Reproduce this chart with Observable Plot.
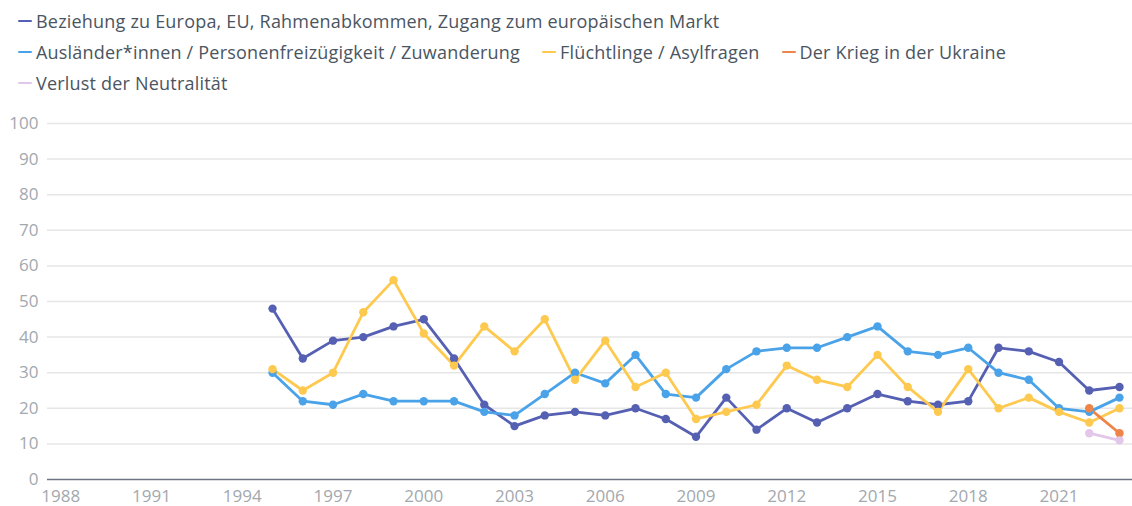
<!DOCTYPE html>
<html>
<head>
<meta charset="utf-8">
<script src="https://cdn.jsdelivr.net/npm/d3@7"></script>
<script src="https://cdn.jsdelivr.net/npm/@observablehq/plot@0.6"></script>
<style>
  html, body { margin: 0; padding: 0; background: #fff; }
  body { width: 1132px; height: 506px; overflow: hidden; font-family: "Open Sans", Roboto, sans-serif; }
  #legend { height: 100px; padding: 5px 0 0 18px; box-sizing: border-box; }
  .row { display: flex; gap: 22px; height: 31px; align-items: center; }
  .item { display: flex; align-items: center; font-size: 18px; letter-spacing: 0.2px; color: #4a5561; white-space: nowrap; }
  .sw { width: 14px; height: 2px; margin-right: 4px; border-radius: 1px; }
</style>
</head>
<body>
<div id="legend"></div>
<div id="chart"></div>
<script>
const years = [1995,1996,1997,1998,1999,2000,2001,2002,2003,2004,2005,2006,2007,2008,2009,2010,2011,2012,2013,2014,2015,2016,2017,2018,2019,2020,2021,2022,2023];
const seriesNames = [
  "Beziehung zu Europa, EU, Rahmenabkommen, Zugang zum europäischen Markt",
  "Ausländer*innen / Personenfreizügigkeit / Zuwanderung",
  "Flüchtlinge / Asylfragen",
  "Der Krieg in der Ukraine",
  "Verlust der Neutralität"
];
const seriesColors = ["#5560b3", "#4aa3e8", "#fec94f", "#ee8448", "#e3c7ea"];
const beziehung   = [48,34,39,40,43,45,34,21,15,18,19,18,20,17,12,23,14,20,16,20,24,22,21,22,37,36,33,25,26];
const auslaender  = [30,22,21,24,22,22,22,19,18,24,30,27,35,24,23,31,36,37,37,40,43,36,35,37,30,28,20,19,23];
const fluechtlinge= [31,25,30,47,56,41,32,43,36,45,28,39,26,30,17,19,21,32,28,26,35,26,19,31,20,23,19,16,20];
const ukraineYears = [2022, 2023];
const ukraine      = [20, 13];
const neutralYears = [2022, 2023];
const neutral      = [13, 11];
const xTicks = [1988,1991,1994,1997,2000,2003,2006,2009,2012,2015,2018,2021];
const yTicks = [0,10,20,30,40,50,60,70,80,90,100];
const legendRows = [[0],[1,2,3],[4]];

const data = [];
years.forEach((yr, i) => data.push({year: yr, value: beziehung[i], s: seriesNames[0]}));
years.forEach((yr, i) => data.push({year: yr, value: auslaender[i], s: seriesNames[1]}));
years.forEach((yr, i) => data.push({year: yr, value: fluechtlinge[i], s: seriesNames[2]}));
ukraineYears.forEach((yr, i) => data.push({year: yr, value: ukraine[i], s: seriesNames[3]}));
neutralYears.forEach((yr, i) => data.push({year: yr, value: neutral[i], s: seriesNames[4]}));

// legend
const legend = document.getElementById("legend");
legendRows.forEach(r => {
  const row = document.createElement("div");
  row.className = "row";
  r.forEach(i => {
    const it = document.createElement("div");
    it.className = "item";
    const sw = document.createElement("span");
    sw.className = "sw";
    sw.style.background = seriesColors[i];
    it.appendChild(sw);
    it.appendChild(document.createTextNode(seriesNames[i]));
    row.appendChild(it);
  });
  legend.appendChild(row);
});

const chart = Plot.plot({
  width: 1132,
  height: 406,
  marginTop: 23,
  marginBottom: 27,
  marginLeft: 47,
  marginRight: 0,
  style: {fontFamily: "'Open Sans', Roboto, sans-serif", fontSize: "17px", background: "#fff"},
  x: {domain: [1987.56, 2023.43], ticks: xTicks, tickFormat: d => String(d), tickSize: 0, tickPadding: 10, label: null},
  y: {domain: [0, 100], ticks: yTicks, tickSize: 0, tickPadding: 9, label: null},
  color: {domain: seriesNames, range: seriesColors},
  marks: [
    Plot.gridY(yTicks.filter(d => d > 0), {stroke: "#e6e6e6", strokeOpacity: 1, strokeWidth: 1.5}),
    Plot.axisY({ticks: yTicks, tickSize: 0, tickPadding: 9, fill: "#a3a8ae", label: null}),
    Plot.axisX({ticks: xTicks, tickFormat: d => String(d), tickSize: 0, tickPadding: 10, fill: "#a3a8ae", label: null}),
    Plot.ruleY([0], {stroke: "#6b7583", strokeWidth: 1.5}),
    Plot.line(data, {x: "year", y: "value", z: "s", stroke: "s", strokeWidth: 2.8}),
    Plot.dot(data, {x: "year", y: "value", fill: "s", r: 4.2})
  ]
});
document.getElementById("chart").appendChild(chart);
</script>
</body>
</html>
